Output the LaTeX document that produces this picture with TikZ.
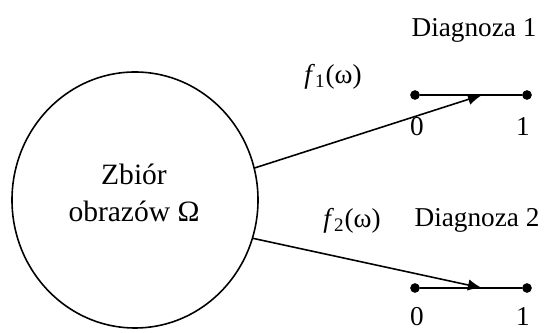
\documentclass[tikz,border=0pt]{standalone}
\usepackage{fontspec}
\setmainfont{Liberation Serif}
\usetikzlibrary{arrows.meta,shapes.geometric,positioning}
\tikzset{
  set/.style={draw,ellipse,line width=0.9pt,minimum width=49.2mm,minimum height=51.2mm,inner sep=0pt},
  dot/.style={circle,fill,inner sep=0pt,minimum size=5.5pt},
  map/.style={line width=0.9pt,-{Latex[length=8pt,width=6.5pt]}},
  seg/.style={line width=0.9pt}
}
\begin{document}
\begin{tikzpicture}[x=0.2mm,y=-0.2mm,line cap=round,line join=round,
  every node/.style={font=\fontsize{15.5}{21}\selectfont}]
\useasboundingbox (0,0) rectangle (547,333);
\node[set] (zbior) at (135,200) {};
\node[align=center,font=\fontsize{16.8}{21}\selectfont] (zbiortxt) at (134,193) {Zbiór\\obrazów Ω};

% first diagnosis
\node[dot] (d1a) at (415,95) {};
\node[dot] (d1b) at (527,95) {};
\coordinate (t1) at (482,95);
\draw[seg] (d1a) -- (d1b);
\node (n1a) at (417,127) {0};
\node (n1b) at (523,127) {1};
\node (diag1) at (474,30) {Diagnoza 1};
\draw[map] (zbior.15) -- (t1);
\node (f1) at (333,77) {\textit{f}\textsubscript{1}(ω)};

% second diagnosis
\node[dot] (d2a) at (415,288) {};
\node[dot] (d2b) at (527,288) {};
\coordinate (t2) at (482,288);
\draw[seg] (d2a) -- (d2b);
\node (n2a) at (417,317) {0};
\node (n2b) at (523,317) {1};
\node (diag2) at (477,220) {Diagnoza 2};
\draw[map] (zbior.-18) -- (t2);
\node (f2) at (352,221) {\textit{f}\textsubscript{2}(ω)};
\end{tikzpicture}
\end{document}
